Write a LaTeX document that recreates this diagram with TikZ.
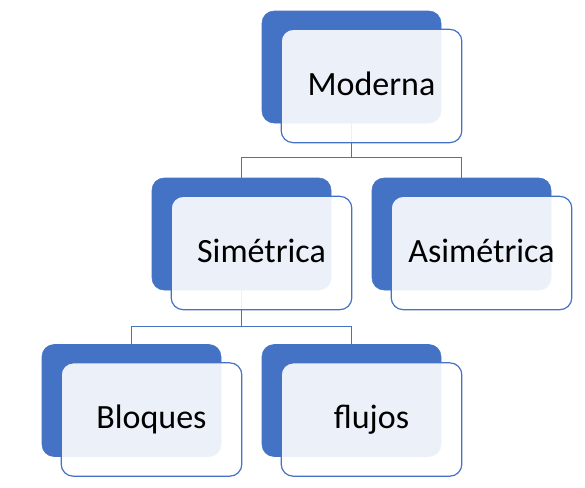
\documentclass[tikz,border=0pt]{standalone}
\usepackage{fontspec}
\setmainfont{Carlito}
\usetikzlibrary{calc}
\definecolor{smblue}{HTML}{4472C4}

\begin{document}
\begin{tikzpicture}[x=0.75pt,y=-0.75pt,
	backbox/.style={fill=smblue,draw=smblue,rounded corners=9pt,minimum width=134.25pt,minimum height=84pt,inner sep=0pt},
	frontbox/.style={fill=white,fill opacity=0.9,text opacity=1,draw=smblue,line width=0.9pt,rounded corners=9pt,
		minimum width=135.5pt,minimum height=85pt,inner sep=0pt,text height=13.5pt,text depth=0pt,
		font=\fontsize{25.5}{30}\selectfont},
	conn/.style={draw=smblue,line width=1pt}]
	\useasboundingbox (0,0) rectangle (585,487);
%	\coordinate (    ) at (column*110+31.5 , level center    );
	\coordinate (cMod) at (351.5,67);
	\coordinate (cSim) at (241.5,234);
	\coordinate (cAsi) at (461.5,234);
	\coordinate (cBlo) at (131.5,400.5);
	\coordinate (cFlu) at (351.5,400.5);

	\node[backbox] (mod) at (cMod) {};
	\node[backbox] (sim) at (cSim) {};
	\node[backbox] (asi) at (cAsi) {};
	\node[backbox] (blo) at (cBlo) {};
	\node[backbox] (flu) at (cFlu) {};

	\draw[conn] (mod.south) -- ++(0,34) -| (sim.north);
	\draw[conn] (mod.south) -- ++(0,34) -| (asi.north);
	\draw[conn] (sim.south) -- ++(0,36) -| (blo.north);
	\draw[conn] (sim.south) -- ++(0,36) -| (flu.north);

	\node[frontbox] (modF) at ($(cMod)+(20,19)$) {Moderna};
	\node[frontbox] (simF) at ($(cSim)+(20,19)$) {Simétrica};
	\node[frontbox] (asiF) at ($(cAsi)+(20,19)$) {Asimétrica};
	\node[frontbox] (bloF) at ($(cBlo)+(20,19)$) {Bloques};
	\node[frontbox] (fluF) at ($(cFlu)+(20,19)$) {flujos};
\end{tikzpicture}
\end{document}
